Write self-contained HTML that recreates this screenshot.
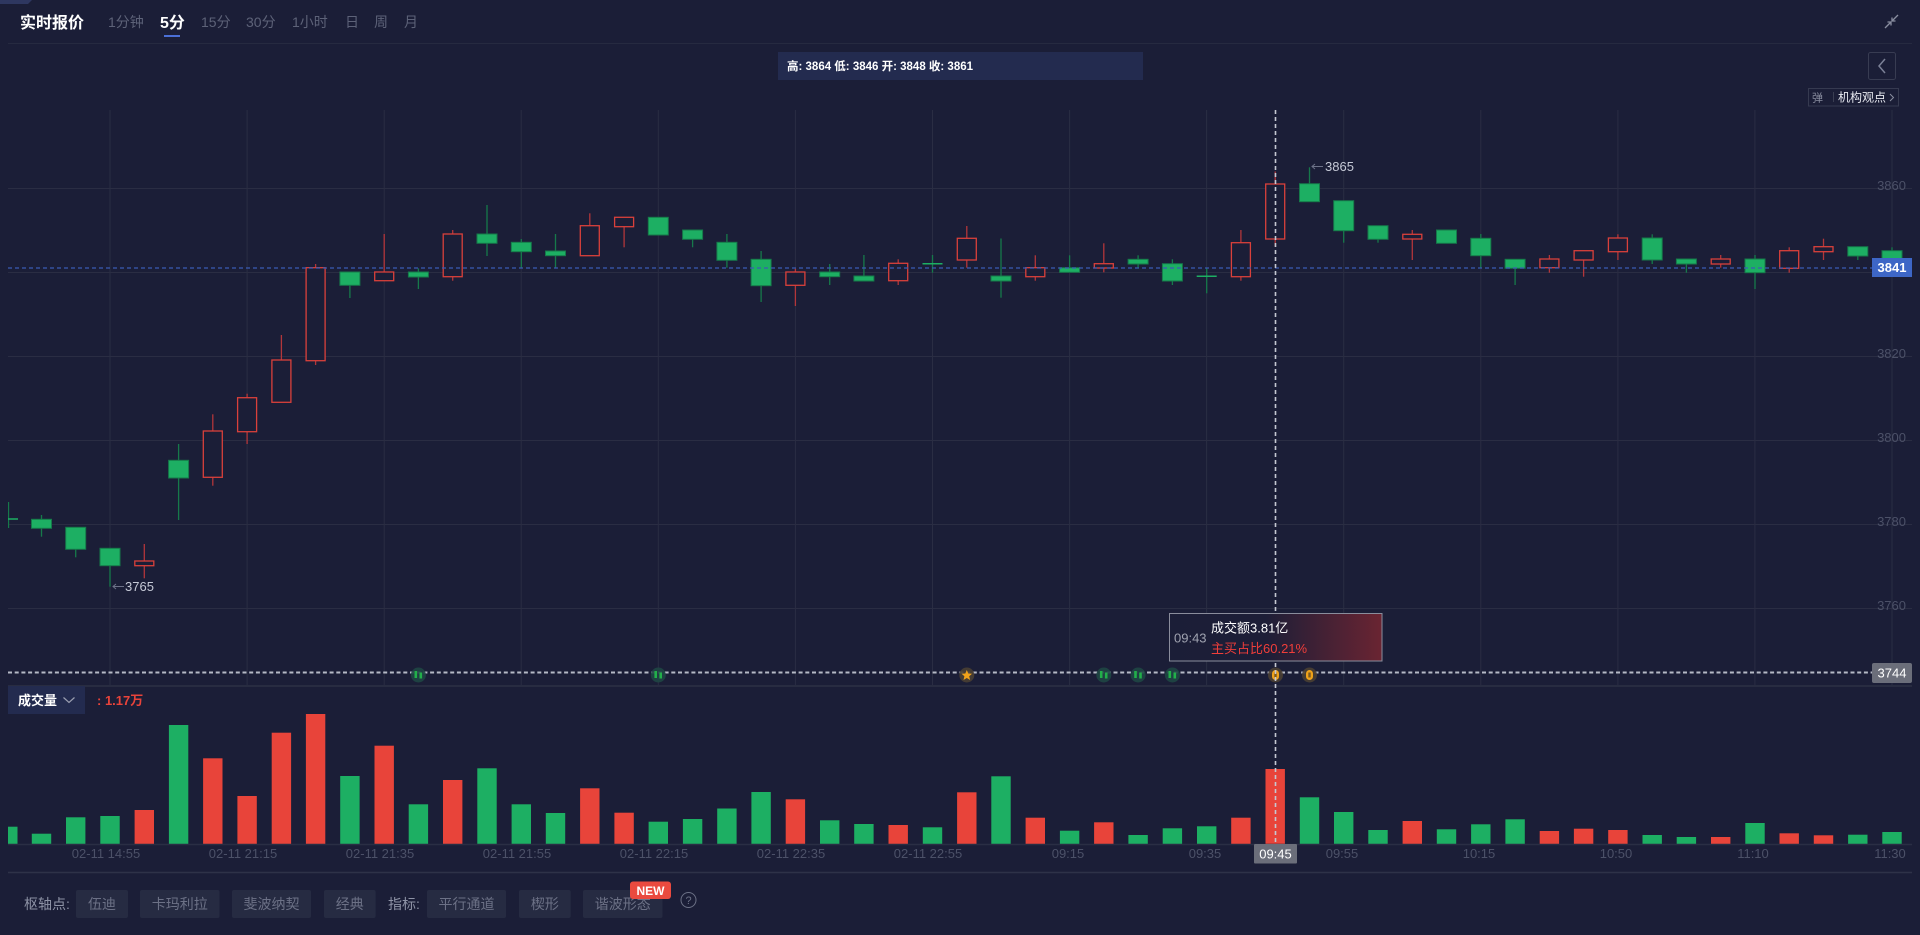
<!DOCTYPE html>
<html><head><meta charset="utf-8"><style>
html,body{margin:0;padding:0;background:#1b1e37;width:1920px;height:935px;overflow:hidden}
svg{display:block}
text{font-family:"Liberation Sans","Noto Sans CJK SC",sans-serif}
</style></head><body>
<svg width="1920" height="935" viewBox="0 0 1920 935" xmlns="http://www.w3.org/2000/svg">
<defs>
<linearGradient id="tg" x1="0" y1="0" x2="1" y2="0">
<stop offset="0" stop-color="#1b1e37"/><stop offset="0.45" stop-color="#1d1e37"/><stop offset="1" stop-color="#6a2432"/>
</linearGradient>
<clipPath id="cc"><rect x="8" y="100" width="1904" height="586"/></clipPath>
</defs>
<rect width="1920" height="935" fill="#1b1e37"/>
<!-- header -->
<polygon points="0,0 32,0 28,4 0,4" fill="#2e3760"/>
<text x="20" y="28" font-size="16" font-weight="bold" fill="#ffffff">实时报价</text>
<g font-size="14" fill="#5d6278">
<text x="108" y="27">1分钟</text>
<text x="201" y="27">15分</text>
<text x="246" y="27">30分</text>
<text x="292" y="27">1小时</text>
<text x="345" y="27">日</text>
<text x="374" y="27">周</text>
<text x="404" y="27">月</text>
</g>
<text x="160" y="28" font-size="16" font-weight="bold" fill="#ffffff">5分</text>
<rect x="164" y="35" width="16" height="2" fill="#4b6fd6"/>
<line x1="8" y1="43.5" x2="1912" y2="43.5" stroke="#262a40" stroke-width="1"/>
<g stroke="#8a8ea0" stroke-width="1.3" fill="none">
<line x1="1898" y1="15" x2="1892" y2="21"/><polyline points="1892,17.5 1892,21 1895.5,21"/>
<line x1="1885" y1="28" x2="1891" y2="22"/><polyline points="1887.5,22 1891,22 1891,25.5"/>
</g>
<rect x="778" y="52" width="365" height="28" fill="#232b4f"/>
<text x="787" y="70" font-size="11.5" font-weight="bold" fill="#ffffff">高: 3864 低: 3846 开: 3848 收: 3861</text>
<rect x="1868.5" y="52.5" width="27" height="27" rx="2" fill="none" stroke="#383c52"/>
<polyline points="1885,59 1879,66 1885,73" fill="none" stroke="#7b8096" stroke-width="1.5"/>
<rect x="1808.5" y="88.5" width="90" height="17.5" fill="none" stroke="#363a50"/>
<text x="1812" y="101.5" font-size="11" fill="#8a8ea0">弹</text>
<line x1="1833.5" y1="92" x2="1833.5" y2="102" stroke="#3a3e52"/>
<text x="1838" y="101.5" font-size="12" fill="#e6e8ef">机构观点</text>
<polyline points="1890,94 1893.5,97.5 1890,101" fill="none" stroke="#8a8ea0" stroke-width="1"/>

<!-- grid -->
<g stroke="#2a2d43" stroke-width="1">
<line x1="8" y1="188.5" x2="1912" y2="188.5"/>
<line x1="8" y1="272.5" x2="1912" y2="272.5"/>
<line x1="8" y1="356.5" x2="1912" y2="356.5"/>
<line x1="8" y1="440.5" x2="1912" y2="440.5"/>
<line x1="8" y1="524.5" x2="1912" y2="524.5"/>
<line x1="8" y1="608.5" x2="1912" y2="608.5"/>
<line x1="110" y1="110" x2="110" y2="686"/>
<line x1="247.1" y1="110" x2="247.1" y2="686"/>
<line x1="384.2" y1="110" x2="384.2" y2="686"/>
<line x1="521.2" y1="110" x2="521.2" y2="686"/>
<line x1="658.3" y1="110" x2="658.3" y2="686"/>
<line x1="795.4" y1="110" x2="795.4" y2="686"/>
<line x1="932.5" y1="110" x2="932.5" y2="686"/>
<line x1="1069.6" y1="110" x2="1069.6" y2="686"/>
<line x1="1206.6" y1="110" x2="1206.6" y2="686"/>
<line x1="1343.7" y1="110" x2="1343.7" y2="686"/>
<line x1="1480.8" y1="110" x2="1480.8" y2="686"/>
<line x1="1617.9" y1="110" x2="1617.9" y2="686"/>
<line x1="1754.9" y1="110" x2="1754.9" y2="686"/>
<line x1="1892" y1="110" x2="1892" y2="686"/>
</g>
<line x1="8" y1="686" x2="1912" y2="686" stroke="#282c41" stroke-width="2"/>
<g font-size="13" fill="#4c5168" text-anchor="end">
<text x="1906" y="190">3860</text>
<text x="1906" y="358">3820</text>
<text x="1906" y="442">3800</text>
<text x="1906" y="526">3780</text>
<text x="1906" y="610">3760</text>
</g>

<!-- candles -->
<g clip-path="url(#cc)">
<g stroke="#16794a" stroke-width="1.3">
<line x1="8.5" y1="502" x2="8.5" y2="528"/>
<line x1="41.5" y1="515" x2="41.5" y2="536.7"/>
<line x1="75.7" y1="527.3" x2="75.7" y2="557.3"/>
<line x1="110" y1="548.3" x2="110" y2="586.7"/>
<line x1="178.6" y1="444" x2="178.6" y2="520"/>
<line x1="349.9" y1="272" x2="349.9" y2="298"/>
<line x1="418.4" y1="268.3" x2="418.4" y2="289"/>
<line x1="487" y1="205" x2="487" y2="256"/>
<line x1="521.3" y1="239" x2="521.3" y2="267.7"/>
<line x1="555.5" y1="234" x2="555.5" y2="267.7"/>
<line x1="692.6" y1="230" x2="692.6" y2="247.3"/>
<line x1="726.9" y1="234" x2="726.9" y2="267.7"/>
<line x1="761.1" y1="251" x2="761.1" y2="302"/>
<line x1="829.7" y1="264" x2="829.7" y2="285"/>
<line x1="863.9" y1="255" x2="863.9" y2="281"/>
<line x1="932.5" y1="255" x2="932.5" y2="272.7"/>
<line x1="1001" y1="238.5" x2="1001" y2="297.7"/>
<line x1="1069.6" y1="255.3" x2="1069.6" y2="272.3"/>
<line x1="1138.1" y1="255.3" x2="1138.1" y2="268"/>
<line x1="1172.4" y1="259.3" x2="1172.4" y2="285"/>
<line x1="1206.7" y1="268.3" x2="1206.7" y2="293.3"/>
<line x1="1309.5" y1="167.3" x2="1309.5" y2="201.7"/>
<line x1="1343.7" y1="200.7" x2="1343.7" y2="242.7"/>
<line x1="1378" y1="225.7" x2="1378" y2="242.7"/>
<line x1="1480.8" y1="234" x2="1480.8" y2="268.3"/>
<line x1="1515.1" y1="259.3" x2="1515.1" y2="285"/>
<line x1="1652.2" y1="234.3" x2="1652.2" y2="264"/>
<line x1="1686.4" y1="259" x2="1686.4" y2="272.7"/>
<line x1="1755" y1="255" x2="1755" y2="289"/>
<line x1="1857.8" y1="246.7" x2="1857.8" y2="260"/>
<line x1="1892" y1="247.3" x2="1892" y2="262"/>
</g>
<g stroke="#b3363a" stroke-width="1.3">
<line x1="144.3" y1="544" x2="144.3" y2="578.3"/>
<line x1="212.8" y1="414.3" x2="212.8" y2="485.7"/>
<line x1="247.1" y1="393.7" x2="247.1" y2="444"/>
<line x1="281.4" y1="335" x2="281.4" y2="402.3"/>
<line x1="315.6" y1="264" x2="315.6" y2="365"/>
<line x1="384.2" y1="234" x2="384.2" y2="280.7"/>
<line x1="452.7" y1="230" x2="452.7" y2="280.7"/>
<line x1="589.8" y1="213.3" x2="589.8" y2="255.7"/>
<line x1="624.1" y1="217.3" x2="624.1" y2="247.3"/>
<line x1="795.4" y1="268.7" x2="795.4" y2="306"/>
<line x1="898.2" y1="259.3" x2="898.2" y2="285"/>
<line x1="966.8" y1="226" x2="966.8" y2="267.7"/>
<line x1="1035.3" y1="255.3" x2="1035.3" y2="280.7"/>
<line x1="1103.8" y1="243.3" x2="1103.8" y2="272.3"/>
<line x1="1240.9" y1="230" x2="1240.9" y2="280.7"/>
<line x1="1275.2" y1="171.5" x2="1275.2" y2="246.7"/>
<line x1="1412.3" y1="230" x2="1412.3" y2="260"/>
<line x1="1549.4" y1="255" x2="1549.4" y2="272.7"/>
<line x1="1583.6" y1="250.7" x2="1583.6" y2="276.7"/>
<line x1="1617.9" y1="234.3" x2="1617.9" y2="260"/>
<line x1="1720.7" y1="255" x2="1720.7" y2="267.7"/>
<line x1="1789.2" y1="247.3" x2="1789.2" y2="272.7"/>
<line x1="1823.5" y1="238.7" x2="1823.5" y2="260"/>
</g>
<g fill="#1daf63" stroke="#16794a" stroke-width="1">
<rect x="31.5" y="519.3" width="20" height="9"/>
<rect x="65.7" y="527.3" width="20" height="22"/>
<rect x="100" y="548.3" width="20" height="17.4"/>
<rect x="168.6" y="460.3" width="20" height="17.7"/>
<rect x="339.9" y="272" width="20" height="13.3"/>
<rect x="408.4" y="272" width="20" height="5"/>
<rect x="477" y="234" width="20" height="9.3"/>
<rect x="511.3" y="242.3" width="20" height="9.4"/>
<rect x="545.5" y="251" width="20" height="4.7"/>
<rect x="648.3" y="217.3" width="20" height="17.7"/>
<rect x="682.6" y="230" width="20" height="9.3"/>
<rect x="716.9" y="242.3" width="20" height="18"/>
<rect x="751.1" y="259.3" width="20" height="26.4"/>
<rect x="819.7" y="272" width="20" height="4.7"/>
<rect x="853.9" y="276" width="20" height="5"/>
<rect x="991" y="276" width="20" height="5"/>
<rect x="1059.6" y="267.7" width="20" height="4.6"/>
<rect x="1128.1" y="259.3" width="20" height="4.7"/>
<rect x="1162.4" y="263.7" width="20" height="17.3"/>
<rect x="1299.5" y="183.7" width="20" height="18"/>
<rect x="1333.7" y="200.7" width="20" height="30"/>
<rect x="1368" y="225.7" width="20" height="13.6"/>
<rect x="1436.5" y="230" width="20" height="13.3"/>
<rect x="1470.8" y="238.3" width="20" height="17.4"/>
<rect x="1505.1" y="259.3" width="20" height="9"/>
<rect x="1642.2" y="238" width="20" height="22"/>
<rect x="1676.4" y="259" width="20" height="5"/>
<rect x="1745" y="259" width="20" height="13.7"/>
<rect x="1847.8" y="246.7" width="20" height="9.3"/>
<rect x="1882" y="250.7" width="20" height="8.3"/>
</g>
<g stroke="#1daf63" stroke-width="1.5">
<line x1="8" y1="519" x2="18" y2="519"/>
<line x1="922.5" y1="263.7" x2="942.5" y2="263.7"/>
<line x1="1196.7" y1="276.3" x2="1216.7" y2="276.3"/>
</g>
<g fill="#1b1e37" stroke="#d9403b" stroke-width="1.3">
<rect x="134.8" y="561" width="19" height="4.7"/>
<rect x="203.3" y="431" width="19" height="46.3"/>
<rect x="237.6" y="397.7" width="19" height="34"/>
<rect x="271.9" y="360" width="19" height="42.3"/>
<rect x="306.1" y="267.7" width="19" height="93"/>
<rect x="374.7" y="272" width="19" height="8.7"/>
<rect x="443.2" y="234" width="19" height="42.7"/>
<rect x="580.3" y="225.7" width="19" height="30"/>
<rect x="614.6" y="217.3" width="19" height="9.4"/>
<rect x="785.9" y="272" width="19" height="13.3"/>
<rect x="888.7" y="263.3" width="19" height="17.4"/>
<rect x="957.3" y="238.3" width="19" height="21.7"/>
<rect x="1025.8" y="267.7" width="19" height="9"/>
<rect x="1094.3" y="263.7" width="19" height="4.3"/>
<rect x="1231.4" y="242.7" width="19" height="34"/>
<rect x="1265.7" y="184" width="19" height="55"/>
<rect x="1402.8" y="234.3" width="19" height="4.7"/>
<rect x="1539.9" y="259" width="19" height="8.7"/>
<rect x="1574.1" y="250.7" width="19" height="9.3"/>
<rect x="1608.4" y="238" width="19" height="13.7"/>
<rect x="1711.2" y="259" width="19" height="5"/>
<rect x="1779.7" y="250.7" width="19" height="17.6"/>
<rect x="1814" y="246.7" width="19" height="5"/>
</g>
</g>

<!-- high/low labels -->
<g stroke="#6d7288" stroke-width="1" fill="none">
<line x1="113" y1="586.5" x2="124" y2="586.5"/><polyline points="116,584 113,586.5 116,589"/>
<line x1="1312" y1="166.5" x2="1323" y2="166.5"/><polyline points="1315,164 1312,166.5 1315,169"/>
</g>
<text x="125" y="591" font-size="13" fill="#c5c9d6">3765</text>
<text x="1325" y="171" font-size="13" fill="#c5c9d6">3865</text>

<!-- current price line -->
<line x1="8" y1="268" x2="1872" y2="268" stroke="#3a5cb4" stroke-width="1.3" stroke-dasharray="4 3"/>
<rect x="1872" y="258" width="40" height="19" fill="#3d66c6"/>
<text x="1892" y="272" font-size="13" font-weight="bold" fill="#ffffff" text-anchor="middle">3841</text>

<!-- crosshair horizontal -->
<line x1="8" y1="672.5" x2="1872" y2="672.5" stroke="#b5b9c6" stroke-width="2" stroke-dasharray="4 2.7"/>
<rect x="1872" y="663" width="40" height="20" rx="2" fill="#6b6e7a"/>
<text x="1892" y="677.5" font-size="13" fill="#ffffff" text-anchor="middle">3744</text>

<!-- signals -->
<g>
<circle cx="418.4" cy="675" r="7.5" fill="#1f4644" opacity="0.9"/>
<rect x="414.5" y="671" width="2.6" height="7" fill="#22b04a"/><rect x="419.5" y="672.5" width="2.6" height="6" fill="#22b04a"/>
<circle cx="658.3" cy="675" r="7.5" fill="#1f4644" opacity="0.9"/>
<rect x="654.4" y="671" width="2.6" height="7" fill="#22b04a"/><rect x="659.4" y="672.5" width="2.6" height="6" fill="#22b04a"/>
<circle cx="1103.8" cy="675" r="7.5" fill="#1f4644" opacity="0.9"/>
<rect x="1099.9" y="671" width="2.6" height="7" fill="#22b04a"/><rect x="1104.9" y="672.5" width="2.6" height="6" fill="#22b04a"/>
<circle cx="1138.1" cy="675" r="7.5" fill="#1f4644" opacity="0.9"/>
<rect x="1134.2" y="671" width="2.6" height="7" fill="#22b04a"/><rect x="1139.2" y="672.5" width="2.6" height="6" fill="#22b04a"/>
<circle cx="1172.4" cy="675" r="7.5" fill="#1f4644" opacity="0.9"/>
<rect x="1168.5" y="671" width="2.6" height="7" fill="#22b04a"/><rect x="1173.5" y="672.5" width="2.6" height="6" fill="#22b04a"/>
<circle cx="966.8" cy="675" r="7.5" fill="#4a3f33" opacity="0.9"/>
<polygon points="966.8,670 968.3,673.5 972,673.8 969.2,676.2 970.1,680 966.8,678 963.5,680 964.4,676.2 961.6,673.8 965.3,673.5" fill="#f0a21a"/>
<circle cx="1275.5" cy="675" r="7.5" fill="#4a3f33" opacity="0.9"/>
<rect x="1272" y="670" width="7" height="10" rx="3.5" fill="#f0a21a"/><rect x="1274.3" y="672.5" width="2.4" height="5" fill="#7a5a20"/>
<circle cx="1309.5" cy="675" r="7.5" fill="#4a3f33" opacity="0.9"/>
<rect x="1306" y="670" width="7" height="10" rx="3.5" fill="#f0a21a"/><rect x="1308.3" y="672.5" width="2.4" height="5" fill="#7a5a20"/>
</g>

<!-- volume header -->
<rect x="8" y="686" width="77" height="28" fill="#232b4f"/>
<text x="18" y="705" font-size="13" font-weight="bold" fill="#ffffff">成交量</text>
<polyline points="63.5,697.5 69,702.5 74.5,697.5" fill="none" stroke="#9a9eb0" stroke-width="1.2"/>
<text x="97" y="705" font-size="13" font-weight="bold" fill="#e8433a">: 1.17万</text>

<!-- volume bars -->
<g fill="#1daf63">
<rect x="8" y="826.7" width="9.5" height="17.3"/>
<rect x="31.8" y="833.7" width="19.4" height="10.3"/>
<rect x="66" y="817.3" width="19.4" height="26.7"/>
<rect x="100.3" y="816" width="19.4" height="28"/>
<rect x="168.9" y="725" width="19.4" height="119"/>
<rect x="340.2" y="776" width="19.4" height="68"/>
<rect x="408.7" y="804.3" width="19.4" height="39.7"/>
<rect x="477.3" y="768.3" width="19.4" height="75.7"/>
<rect x="511.6" y="804.3" width="19.4" height="39.7"/>
<rect x="545.8" y="813" width="19.4" height="31"/>
<rect x="648.6" y="821.7" width="19.4" height="22.3"/>
<rect x="682.9" y="819" width="19.4" height="25"/>
<rect x="717.2" y="808.5" width="19.4" height="35.5"/>
<rect x="751.4" y="792" width="19.4" height="52"/>
<rect x="820" y="820.3" width="19.4" height="23.7"/>
<rect x="854.2" y="824" width="19.4" height="20"/>
<rect x="922.8" y="827.3" width="19.4" height="16.7"/>
<rect x="991.3" y="776.3" width="19.4" height="67.7"/>
<rect x="1059.9" y="830.7" width="19.4" height="13.3"/>
<rect x="1128.4" y="835" width="19.4" height="9"/>
<rect x="1162.7" y="828.3" width="19.4" height="15.7"/>
<rect x="1197" y="826.3" width="19.4" height="17.7"/>
<rect x="1299.8" y="797.3" width="19.4" height="46.7"/>
<rect x="1334" y="812" width="19.4" height="32"/>
<rect x="1368.3" y="830" width="19.4" height="14"/>
<rect x="1436.8" y="829.3" width="19.4" height="14.7"/>
<rect x="1471.1" y="824.3" width="19.4" height="19.7"/>
<rect x="1505.4" y="819.3" width="19.4" height="24.7"/>
<rect x="1642.5" y="835" width="19.4" height="9"/>
<rect x="1676.7" y="837" width="19.4" height="7"/>
<rect x="1745.3" y="823" width="19.4" height="21"/>
<rect x="1848.1" y="834.7" width="19.4" height="9.3"/>
<rect x="1882.3" y="832" width="19.4" height="12"/>
</g>
<g fill="#e8443a">
<rect x="134.6" y="810" width="19.4" height="34"/>
<rect x="203.1" y="758.3" width="19.4" height="85.7"/>
<rect x="237.4" y="796" width="19.4" height="48"/>
<rect x="271.7" y="732.7" width="19.4" height="111.3"/>
<rect x="305.9" y="714" width="19.4" height="130"/>
<rect x="374.5" y="745.7" width="19.4" height="98.3"/>
<rect x="443" y="780" width="19.4" height="64"/>
<rect x="580.1" y="788.3" width="19.4" height="55.7"/>
<rect x="614.4" y="812.7" width="19.4" height="31.3"/>
<rect x="785.7" y="799.3" width="19.4" height="44.7"/>
<rect x="888.5" y="825" width="19.4" height="19"/>
<rect x="957.1" y="792.3" width="19.4" height="51.7"/>
<rect x="1025.6" y="817.7" width="19.4" height="26.3"/>
<rect x="1094.1" y="822.3" width="19.4" height="21.7"/>
<rect x="1231.2" y="817.7" width="19.4" height="26.3"/>
<rect x="1265.5" y="769" width="19.4" height="75"/>
<rect x="1402.6" y="821" width="19.4" height="23"/>
<rect x="1539.7" y="831" width="19.4" height="13"/>
<rect x="1573.9" y="828.7" width="19.4" height="15.3"/>
<rect x="1608.2" y="830" width="19.4" height="14"/>
<rect x="1711" y="837" width="19.4" height="7"/>
<rect x="1779.5" y="833.3" width="19.4" height="10.7"/>
<rect x="1813.8" y="835.3" width="19.4" height="8.7"/>
</g>
<line x1="8" y1="844.5" x2="1912" y2="844.5" stroke="#2a2e44" stroke-width="1.5"/>

<!-- time labels -->
<g font-size="13" fill="#4c5168" text-anchor="middle">
<text x="106" y="858">02-11 14:55</text>
<text x="243" y="858">02-11 21:15</text>
<text x="380" y="858">02-11 21:35</text>
<text x="517" y="858">02-11 21:55</text>
<text x="654" y="858">02-11 22:15</text>
<text x="791" y="858">02-11 22:35</text>
<text x="928" y="858">02-11 22:55</text>
<text x="1068" y="858">09:15</text>
<text x="1205" y="858">09:35</text>
<text x="1342" y="858">09:55</text>
<text x="1479" y="858">10:15</text>
<text x="1616" y="858">10:50</text>
<text x="1753" y="858">11:10</text>
<text x="1890" y="858">11:30</text>
</g>

<!-- crosshair vertical -->
<line x1="1275.5" y1="110" x2="1275.5" y2="844" stroke="#c5c8d2" stroke-width="1.6" stroke-dasharray="4 3"/>
<rect x="1254" y="844" width="43" height="19.5" rx="1" fill="#6b6e7a"/>
<text x="1275.5" y="858.5" font-size="13" fill="#ffffff" text-anchor="middle">09:45</text>

<!-- tooltip -->
<rect x="1169.5" y="613.5" width="212.5" height="47.5" fill="url(#tg)" stroke="#8a8d9c" stroke-width="1"/>
<text x="1174" y="642.5" font-size="13" fill="#a0a3b0">09:43</text>
<text x="1211" y="632.5" font-size="13" fill="#ffffff">成交额3.81亿</text>
<text x="1211" y="653" font-size="13" fill="#f03e3a">主买占比60.21%</text>

<!-- bottom toolbar -->
<line x1="8" y1="872.5" x2="1912" y2="872.5" stroke="#2e3248" stroke-width="1.5"/>
<text x="24" y="909" font-size="14" fill="#8e93a6">枢轴点:</text>
<text x="388" y="909" font-size="14" fill="#8e93a6">指标:</text>
<g fill="#262b42">
<rect x="76" y="890" width="52" height="28" rx="2"/>
<rect x="140" y="890" width="79.5" height="28" rx="2"/>
<rect x="232" y="890" width="79" height="28" rx="2"/>
<rect x="324" y="890" width="51.6" height="28" rx="2"/>
<rect x="427" y="890" width="79" height="28" rx="2"/>
<rect x="519" y="890" width="51.7" height="28" rx="2"/>
<rect x="583" y="890" width="79.5" height="28" rx="2"/>
</g>
<g font-size="14" fill="#6c7186" text-anchor="middle">
<text x="102" y="909">伍迪</text>
<text x="179.8" y="909">卡玛利拉</text>
<text x="271.5" y="909">斐波纳契</text>
<text x="349.8" y="909">经典</text>
<text x="466.5" y="909">平行通道</text>
<text x="544.9" y="909">楔形</text>
<text x="622.8" y="909">谐波形态</text>
</g>
<rect x="630" y="881.5" width="41" height="17.5" rx="3" fill="#ea4a3f"/>
<text x="650.5" y="895" font-size="12" font-weight="bold" fill="#ffffff" text-anchor="middle">NEW</text>
<circle cx="688.5" cy="900" r="7.5" fill="none" stroke="#6c7186" stroke-width="1"/>
<text x="688.5" y="904" font-size="11" fill="#6c7186" text-anchor="middle">?</text>
</svg>
</body></html>
